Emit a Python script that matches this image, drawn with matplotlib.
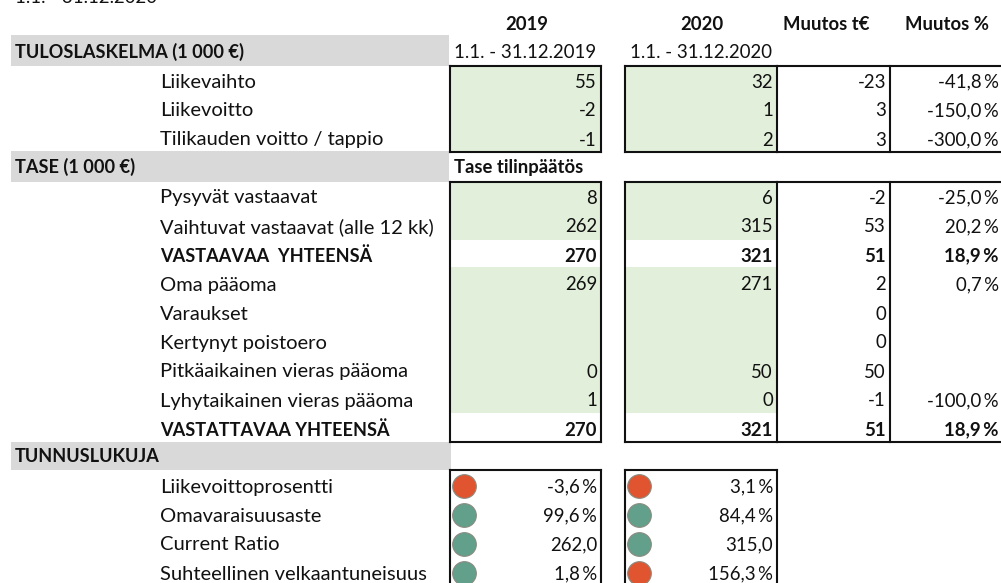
import matplotlib
matplotlib.use('Agg')
import matplotlib.pyplot as plt
from matplotlib.patches import Rectangle

plt.rcParams['font.family'] = ['Lato', 'DejaVu Sans']

W = 1001
H = 583
FS_LABEL = 14.5
FS_NUM = 13.4
FS_CAPS = 13.1
FS_HEAD = 13.3
BLACK = '#111111'
GREEN = '#E2EFDA'
GRAY = '#D9D9D9'
RED = '#E0552F'
TEAL = '#62A08C'

top_clip = '1.1. - 31.12.2020'
headers = ['2019', '2020', 'Muutos t€', 'Muutos %']
periods = ['1.1. - 31.12.2019', '1.1. - 31.12.2020']
sections = ['TULOSLASKELMA (1 000 €)', 'TASE (1 000 €)', 'TUNNUSLUKUJA']
tase_label = 'Tase tilinpäätös'

tulos_rows = ['Liikevaihto', 'Liikevoitto', 'Tilikauden voitto / tappio']
tulos_2019 = ['55', '-2', '-1']
tulos_2020 = ['32', '1', '2']
tulos_eur = ['-23', '3', '3']
tulos_pct = ['-41,8\u2009%', '-150,0\u2009%', '-300,0\u2009%']

tase_rows = ['Pysyvät vastaavat', 'Vaihtuvat vastaavat (alle 12 kk)', 'VASTAAVAA  YHTEENSÄ',
             'Oma pääoma', 'Varaukset', 'Kertynyt poistoero', 'Pitkäaikainen vieras pääoma',
             'Lyhytaikainen vieras pääoma', 'VASTATTAVAA YHTEENSÄ']
tase_2019 = ['8', '262', '270', '269', '', '', '0', '1', '270']
tase_2020 = ['6', '315', '321', '271', '', '', '50', '0', '321']
tase_eur = ['-2', '53', '51', '2', '0', '0', '50', '-1', '51']
tase_pct = ['-25,0\u2009%', '20,2\u2009%', '18,9\u2009%', '0,7\u2009%', '', '', '', '-100,0\u2009%', '18,9\u2009%']
tase_bold = [2, 8]

tunnus_rows = ['Liikevoittoprosentti', 'Omavaraisuusaste', 'Current Ratio', 'Suhteellinen velkaantuneisuus']
tunnus_2019 = ['-3,6\u2009%', '99,6\u2009%', '262,0', '1,8\u2009%']
tunnus_2020 = ['3,1\u2009%', '84,4\u2009%', '315,0', '156,3\u2009%']
status_2019 = [RED, TEAL, TEAL, TEAL]
status_2020 = [RED, TEAL, TEAL, RED]

# column edges in pixels
c1_l, c1_r = 450, 601
c2_l, c2_r = 625, 777
c3_r = 890
c4_r = 999
label_x = 160

tulos_y = [82, 111, 140]
tase_y = [198, 227, 256, 285, 314, 343, 372, 401, 430]
tunnus_y = [487, 516, 545, 574]

fig = plt.figure(figsize=(W / 100, H / 100), dpi=100)
ax = fig.add_axes([0, 0, 1, 1])
ax.set_xlim(0, W)
ax.set_ylim(H, 0)
ax.axis('off')


def rect(x0, y0, x1, y1, **kw):
    ax.add_patch(Rectangle((x0, y0), x1 - x0, y1 - y0, **kw))


def txt(x, y, s, ha='left', bold=False, size=FS_NUM):
    ax.text(x, y, s, ha=ha, va='center', fontsize=size, color=BLACK,
            fontweight='bold' if bold else 'normal')


def hline(x0, x1, y):
    ax.plot([x0, x1], [y, y], color=BLACK, lw=1.5, solid_capstyle='projecting')


def vline(x, y0, y1):
    ax.plot([x, x], [y0, y1], color=BLACK, lw=1.5, solid_capstyle='projecting')


# harmaat otsikkorivit
for y0, y1, xr in [(35, 66, 449), (151, 182, 449), (442, 470, 451)]:
    rect(11, y0, xr, y1, color=GRAY, lw=0)

# vihreat taustat
for xl, xr in [(c1_l, c1_r), (c2_l, c2_r)]:
    rect(xl, 66, xr, 152, color=GREEN, lw=0)
    rect(xl, 182, xr, 240, color=GREEN, lw=0)
    rect(xl, 267, xr, 413, color=GREEN, lw=0)

# otsikot
ax.text(15, 3, top_clip, ha='left', va='baseline', fontsize=FS_NUM, color=BLACK)
txt(527, 24, headers[0], ha='center', bold=True, size=FS_HEAD)
txt(702, 24, headers[1], ha='center', bold=True, size=FS_HEAD)
txt(826, 24, headers[2], ha='center', bold=True, size=FS_HEAD)
txt(947, 24, headers[3], ha='center', bold=True, size=FS_HEAD)
txt(454, 52, periods[0])
txt(630, 52, periods[1])
txt(15, 52, sections[0], bold=True, size=FS_CAPS)
txt(15, 167, sections[1], bold=True, size=FS_CAPS)
txt(15, 457, sections[2], bold=True, size=FS_CAPS)
txt(454, 167, tase_label, bold=True, size=FS_HEAD)

for i, y in enumerate(tulos_y):
    txt(label_x, y, tulos_rows[i], size=FS_LABEL)
    txt(c1_r - 4, y, tulos_2019[i], ha='right')
    txt(c2_r - 4, y, tulos_2020[i], ha='right')
    txt(c3_r - 4, y, tulos_eur[i], ha='right')
    txt(c4_r, y, tulos_pct[i], ha='right')

for i, y in enumerate(tase_y):
    b = i in tase_bold
    txt(label_x, y, tase_rows[i], bold=b, size=FS_CAPS if b else FS_LABEL)
    txt(c1_r - 4, y, tase_2019[i], ha='right', bold=b)
    txt(c2_r - 4, y, tase_2020[i], ha='right', bold=b)
    txt(c3_r - 4, y, tase_eur[i], ha='right', bold=b)
    txt(c4_r, y, tase_pct[i], ha='right', bold=b)

for i, y in enumerate(tunnus_y):
    txt(label_x, y, tunnus_rows[i], size=FS_LABEL)
    txt(c1_r - 4, y, tunnus_2019[i], ha='right')
    txt(c2_r - 4, y, tunnus_2020[i], ha='right')
    ax.scatter([464], [y - 1], s=290, color=status_2019[i], edgecolors='#8A8A80', linewidths=0.8, zorder=3)
    ax.scatter([639], [y - 1], s=290, color=status_2020[i], edgecolors='#8A8A80', linewidths=0.8, zorder=3)

# kehykset
for y0, y1 in [(66, 152), (182, 442)]:
    for xl, xr in [(c1_l, c1_r), (c2_l, c2_r)]:
        hline(xl, xr, y0)
        hline(xl, xr, y1)
        vline(xl, y0, y1)
        vline(xr, y0, y1)
    hline(c2_r, W + 2, y0)
    hline(c2_r, W + 2, y1)
    vline(c3_r, y0, y1)

for xl, xr in [(c1_l, c1_r), (c2_l, c2_r)]:
    hline(xl, xr, 470)
    vline(xl, 470, H + 2)
    vline(xr, 470, H + 2)

fig.savefig('out.png', dpi=100)
